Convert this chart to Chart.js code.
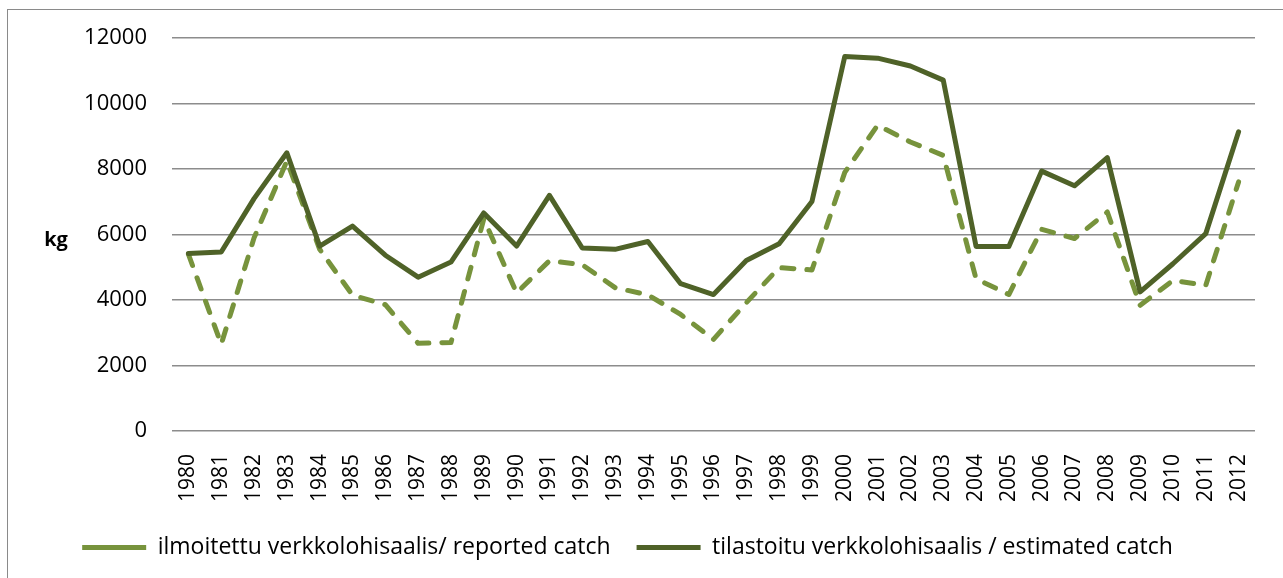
<!DOCTYPE html>
<html>
<head>
<meta charset="utf-8">
<script src="https://cdn.jsdelivr.net/npm/chart.js@4/dist/chart.umd.min.js"></script>
<style>
  html, body { margin: 0; padding: 0; background: #fff; overflow: hidden; }
  #frame { position: absolute; left: 7px; top: 9px; width: 1300px; height: 600px; border: 1.5px solid #8a8a8a; }
  #wrap { position: absolute; left: 0; top: 0; width: 1283px; height: 578px; }
</style>
</head>
<body>
<div id="frame"></div>
<div id="wrap"><canvas id="canvas" width="1283" height="578"></canvas></div>
<script>
var years = ['1980', '1981', '1982', '1983', '1984', '1985', '1986', '1987', '1988', '1989',
  '1990', '1991', '1992', '1993', '1994', '1995', '1996', '1997', '1998', '1999',
  '2000', '2001', '2002', '2003', '2004', '2005', '2006', '2007', '2008', '2009',
  '2010', '2011', '2012'];

// ilmoitettu / reported (dashed)
var reported = [5400, 2650, 5900, 8250, 5550, 4150, 3860, 2680, 2700, 6480,
  4220, 5200, 5080, 4380, 4160, 3560, 2800, 3920, 4990, 4920,
  7900, 9340, 8830, 8420, 4650, 4170, 6160, 5880, 6690, 3840,
  4600, 4450, 7610];

// tilastoitu / estimated (solid)
var estimated = [5420, 5470, 7100, 8500, 5650, 6260, 5370, 4700, 5160, 6660,
  5650, 7200, 5590, 5550, 5790, 4500, 4170, 5210, 5720, 7010,
  11440, 11390, 11150, 10720, 5640, 5640, 7940, 7490, 8350, 4250,
  5110, 6030, 9140];

var yTicks = [0, 2000, 4000, 6000, 8000, 10000, 12000];
var unitLabel = 'kg';

// horizontal "kg" next to the value axis
var unitPlugin = {
  id: 'unitLabel',
  afterDraw: function(chart) {
    var ctx = chart.ctx;
    var y = chart.scales.y.getPixelForValue(6000);
    ctx.save();
    ctx.font = 'bold 20px "Open Sans"';
    ctx.fillStyle = '#000';
    ctx.textAlign = 'center';
    ctx.textBaseline = 'middle';
    ctx.fillText(unitLabel, 56, y + 6);
    ctx.restore();
  }
};

var chart = new Chart(document.getElementById('canvas').getContext('2d'), {
  type: 'line',
  data: {
    labels: years,
    datasets: [{
      label: 'ilmoitettu verkkolohisaalis/ reported catch',
      data: reported,
      borderColor: '#77933C',
      backgroundColor: '#77933C',
      borderWidth: 5,
      borderDash: [12, 13],
      borderCapStyle: 'round',
      borderJoinStyle: 'round',
      pointRadius: 0,
      tension: 0,
      order: 1
    }, {
      label: 'tilastoitu verkkolohisaalis / estimated catch',
      data: estimated,
      borderColor: '#4F6228',
      backgroundColor: '#4F6228',
      borderWidth: 5,
      borderCapStyle: 'round',
      borderJoinStyle: 'round',
      pointRadius: 0,
      tension: 0,
      order: 0
    }]
  },
  options: {
    responsive: false,
    animation: false,
    layout: { padding: { left: 0, top: 38, right: 28, bottom: 9 } },
    scales: {
      x: {
        offset: true,
        grid: { display: false },
        border: { display: false },
        ticks: { color: '#000', font: { family: 'Open Sans', size: 21 }, minRotation: 90, maxRotation: 90, padding: 15, autoSkip: false },
        afterFit: function(s) { s.height = 79; }
      },
      y: {
        min: 0,
        max: 12000,
        afterBuildTicks: function(s) { s.ticks = yTicks.map(function(v) { return { value: v }; }); },
        grid: { color: '#8c8c8c', lineWidth: 1.5, drawTicks: false },
        border: { display: false },
        ticks: {
          color: '#000', font: { family: 'Open Sans', size: 22 }, padding: 25,
          callback: function(v) { return String(v); }
        },
        afterFit: function(s) { s.width = 172; }
      }
    },
    plugins: {
      tooltip: { enabled: false },
      legend: {
        position: 'bottom',
        labels: {
          color: '#000',
          font: { family: 'Open Sans', size: 23 },
          usePointStyle: true,
          pointStyle: 'line',
          pointStyleWidth: 64,
          padding: 26,
          sort: function(a, b) { return a.datasetIndex - b.datasetIndex; }
        }
      }
    }
  },
  plugins: [unitPlugin]
});
</script>
</body>
</html>
